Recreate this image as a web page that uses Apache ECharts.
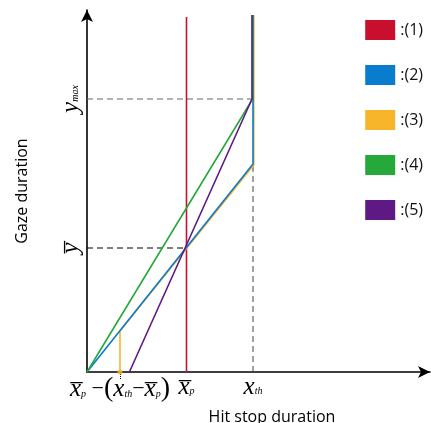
<!DOCTYPE html>
<html>
<head>
<meta charset="utf-8">
<script src="https://cdn.jsdelivr.net/npm/echarts@6/dist/echarts.min.js"></script>
<style>
  html, body { margin: 0; padding: 0; background: #fff; }
  #chart { width: 431px; height: 423px; }
</style>
</head>
<body>
<div id="chart"></div>
<script>
// 数据 (1 unit ~ 1 px of the original figure)
var xTicks = [33, 99.5, 166];           // xp-(xth-xp), xp, xth
var yTicks = [124, 273];                // ybar, ymax
var seriesNames = [':(1)', ':(2)', ':(3)', ':(4)', ':(5)'];
var seriesColors = ['#c8102e', '#0a7ccd', '#f7b52c', '#27a83b', '#5f1985'];

var redLine = [[99.5, 0], [99.5, 355]];
var blueLine = [[0, 0], [166, 208], [166, 357]];
var yellowLine = [[33, 0], [33, 41], [166.8, 207], [166.8, 357]];
var greenLine = [[0, 0], [165.6, 273], [165.6, 357]];
var purpleLine = [[42.4, 0], [165, 273], [165, 357]];
var yellowDot = [[33, 0]];

var yMaxGuide = [[0, 273], [166, 273]];
var yBarGuide = [[0, 124], [99.5, 124]];
var xThGuide = [[166, 0], [166, 208]];

(function () {
  var chart = echarts.init(document.getElementById('chart'));
  var serif = 'Liberation Serif';
  var rich = {
    x: { fontFamily: serif, fontStyle: 'italic', fontSize: 25, color: '#000' },
    s: { fontFamily: serif, fontStyle: 'italic', fontSize: 10, color: '#000', verticalAlign: 'bottom', padding: [0, 0, 4, 0] },
    o: { fontFamily: serif, fontSize: 22, color: '#000' },
    p: { fontFamily: serif, fontSize: 28, color: '#000' }
  };
  var OL = '\u0305';

  function xLabel(v) {
    if (Math.abs(v - xTicks[0]) < 1) {
      return '{x|x' + OL + '}{s|p}{o| \u2212}{p|(}{x|x}{s|th}{o|\u2212}{x|x' + OL + '}{s|p}{p|)}';
    }
    if (Math.abs(v - xTicks[1]) < 1) return '{x|x' + OL + '}{s|p}';
    if (Math.abs(v - xTicks[2]) < 1) return '{x|x}{s|th}';
    return '';
  }
  function yLabel(v) {
    if (Math.abs(v - yTicks[0]) < 1) return '{x|y' + OL + '}';
    if (Math.abs(v - yTicks[1]) < 1) return '{x|y}{s|max}';
    return '';
  }

  function lineSeries(name, data, color, z) {
    return {
      name: name,
      type: 'line',
      data: data,
      symbol: 'none',
      z: z,
      lineStyle: { color: color, width: 1.6 },
      itemStyle: { color: color }
    };
  }
  function guide(data, color) {
    return {
      type: 'line',
      data: data,
      symbol: 'none',
      silent: true,
      z: 1,
      lineStyle: { color: color, width: 1, type: [6, 4] }
    };
  }

  var option = {
    animation: false,
    grid: { left: 87, top: 10, right: 1, bottom: 51, outerBoundsMode: 'none' },
    legend: {
      orient: 'vertical',
      right: 3,
      top: 15,
      icon: 'rect',
      itemWidth: 30,
      itemHeight: 20,
      itemGap: 25,
      data: seriesNames,
      textStyle: { fontFamily: 'Open Sans', fontSize: 16, color: '#111' }
    },
    xAxis: {
      type: 'value',
      min: 0,
      max: 343,
      name: 'Hit stop duration',
      nameLocation: 'middle',
      nameGap: 37,
      nameTextStyle: { fontFamily: 'Open Sans', fontSize: 16, color: '#000', padding: [0, 0, 0, 27] },
      axisLine: { lineStyle: { color: '#000', width: 1.6 }, symbol: ['none', 'arrow'], symbolSize: [9, 12] },
      axisTick: { show: true, customValues: [xTicks[0]], length: 8, lineStyle: { color: '#000', type: 'dotted' } },
      splitLine: { show: false },
      axisLabel: { customValues: xTicks, margin: 3, formatter: xLabel, rich: rich }
    },
    yAxis: {
      type: 'value',
      min: 0,
      max: 362,
      name: 'Gaze duration',
      nameLocation: 'middle',
      nameGap: 57,
      nameTextStyle: { fontFamily: 'Open Sans', fontSize: 16, color: '#000' },
      axisLine: { show: true, lineStyle: { color: '#000', width: 1.6 }, symbol: ['none', 'arrow'], symbolSize: [9, 12] },
      axisTick: { show: false },
      splitLine: { show: false },
      axisLabel: { customValues: yTicks, rotate: 90, margin: 3, formatter: yLabel, rich: rich }
    },
    series: [
      guide(yMaxGuide, '#666'),
      guide(yBarGuide, '#000'),
      guide(xThGuide, '#444'),
      lineSeries(seriesNames[0], redLine, seriesColors[0], 2),
      lineSeries(seriesNames[2], yellowLine, seriesColors[2], 2),
      lineSeries(seriesNames[1], blueLine, seriesColors[1], 3),
      lineSeries(seriesNames[3], greenLine, seriesColors[3], 3),
      lineSeries(seriesNames[4], purpleLine, seriesColors[4], 4),
      {
        type: 'scatter',
        data: yellowDot,
        symbolSize: 5,
        z: 5,
        itemStyle: { color: seriesColors[2] }
      }
    ]
  };
  chart.setOption(option);
  window.addEventListener('resize', function () {
    chart.resize();
  });
})();
</script>
</body>
</html>
